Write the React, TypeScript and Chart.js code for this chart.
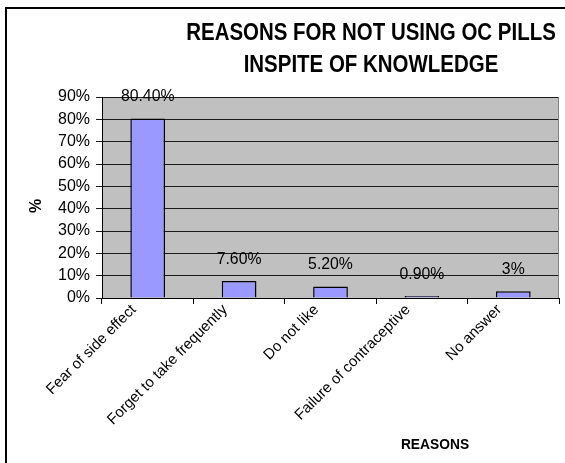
import React, { useEffect, useRef } from 'react';
import { Chart, registerables } from 'chart.js';

Chart.register(...registerables);

const categories = [
  'Fear of side effect',
  'Forget to take frequently',
  'Do not like',
  'Failure of contraceptive',
  'No answer',
];
const values = [80.4, 7.6, 5.2, 0.9, 3];
const valueLabels = ['80.40%', '7.60%', '5.20%', '0.90%', '3%'];
const titleLines = ['REASONS FOR NOT USING OC PILLS', 'INSPITE OF KNOWLEDGE'];
const yAxisTitle = '%';
const xAxisTitle = 'REASONS';
const yTicks = [0, 10, 20, 30, 40, 50, 60, 70, 80, 90];

const FONT = '"Liberation Sans", Arial, sans-serif';

function narrowText(ctx: any, text: string, x: number, y: number, sx: number) {
  ctx.save();
  ctx.translate(x, y);
  ctx.scale(sx, 1);
  ctx.fillText(text, 0, 0);
  ctx.restore();
}

const decorPlugin = {
  id: 'decor',
  beforeDraw(chart: any) {
    const { ctx, chartArea, width, height } = chart;
    ctx.save();
    ctx.fillStyle = '#ffffff';
    ctx.fillRect(0, 0, width, height);
    ctx.fillStyle = '#c0c0c0';
    ctx.fillRect(chartArea.left, chartArea.top, chartArea.right - chartArea.left, chartArea.bottom - chartArea.top);
    ctx.restore();
  },
  afterDraw(chart: any) {
    const { ctx, chartArea, width, height } = chart;
    ctx.save();
    // right border of plot area
    ctx.strokeStyle = '#808080';
    ctx.lineWidth = 1;
    ctx.beginPath();
    ctx.moveTo(chartArea.right - 0.5, chartArea.top);
    ctx.lineTo(chartArea.right - 0.5, chartArea.bottom);
    ctx.stroke();

    // value labels
    const meta = chart.getDatasetMeta(0);
    ctx.fillStyle = '#000';
    ctx.font = `17px ${FONT}`;
    ctx.textAlign = 'center';
    ctx.textBaseline = 'alphabetic';
    meta.data.forEach((bar: any, i: number) => {
      narrowText(ctx, valueLabels[i], bar.x, bar.y - 17, 0.93);
    });

    // title
    ctx.font = `bold 23px ${FONT}`;
    narrowText(ctx, titleLines[0], 371, 40, 0.89);
    narrowText(ctx, titleLines[1], 371, 72, 0.89);

    // y axis title
    ctx.save();
    ctx.translate(37, 206);
    ctx.rotate(-Math.PI / 2);
    ctx.font = `bold 16px ${FONT}`;
    ctx.textBaseline = 'middle';
    ctx.fillText(yAxisTitle, 0, 0);
    ctx.restore();

    // x axis title
    ctx.font = `bold 15px ${FONT}`;
    narrowText(ctx, xAxisTitle, 435, 449, 0.92);

    // outer frame
    ctx.strokeStyle = '#000';
    ctx.lineWidth = 2;
    ctx.beginPath();
    ctx.moveTo(6, height);
    ctx.lineTo(6, 8);
    ctx.lineTo(width, 8);
    ctx.stroke();
    ctx.restore();
  },
};

export default function App() {
  const ref = useRef<HTMLCanvasElement | null>(null);
  useEffect(() => {
    if (!ref.current) return;
    const chart = new Chart(ref.current, {
      type: 'bar',
      data: {
        labels: categories,
        datasets: [
          {
            data: values,
            backgroundColor: '#9999ff',
            borderColor: '#000000',
            borderWidth: 1.5,
            barPercentage: 0.38,
            categoryPercentage: 1,
          },
        ],
      },
      options: {
        responsive: false,
        animation: false,
        devicePixelRatio: 1,
        layout: { padding: { left: 0, right: 6, top: 97, bottom: 0 } },
        plugins: {
          legend: { display: false },
          tooltip: { enabled: false },
          title: { display: false },
        },
        scales: {
          x: {
            offset: true,
            grid: {
              offset: true,
              drawOnChartArea: false,
              drawTicks: true,
              tickLength: 6,
              color: '#000',
            },
            border: { display: true, color: '#000', width: 1 },
            ticks: {
              autoSkip: false,
              minRotation: 45,
              maxRotation: 45,
              labelOffset: -14,
              padding: -3,
              color: '#000',
              font: { family: FONT, size: 15 },
            },
            afterFit(scale: any) {
              scale.height = 165;
            },
          },
          y: {
            min: 0,
            max: 90,
            afterBuildTicks(scale: any) {
              scale.ticks = yTicks.map((v) => ({ value: v }));
            },
            grid: { color: '#1a1a1a', tickLength: 6, drawTicks: true },
            border: { display: true, color: '#000', width: 1 },
            ticks: {
              padding: 6,
              color: '#000',
              font: { family: FONT, size: 16 },
              callback: (v: any) => `${v}%`,
            },
            afterFit(scale: any) {
              scale.width = 102;
            },
          },
        },
      },
      plugins: [decorPlugin],
    });
    return () => chart.destroy();
  }, []);
  return (
    <div style={{ position: 'absolute', left: 0, top: 0, width: 565, height: 463 }}>
      <canvas ref={ref} width={565} height={463} />
    </div>
  );
}
